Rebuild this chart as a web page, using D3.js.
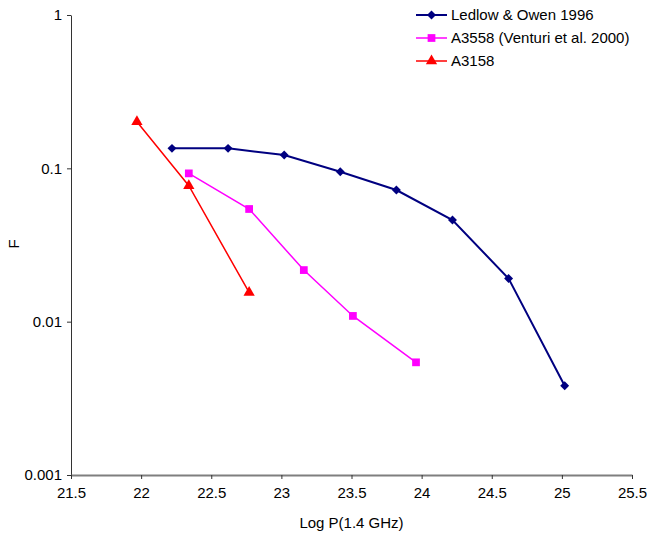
<!DOCTYPE html>
<html>
<head>
<meta charset="utf-8">
<script src="https://cdn.jsdelivr.net/npm/d3@7"></script>
<style>
  body { margin: 0; background: #fff; }
  text { font-family: "Liberation Sans", Arial, sans-serif; }
</style>
</head>
<body>
<div id="chart"></div>
<script>
// data
var ledlowX = [22.22, 22.62, 23.02, 23.42, 23.82, 24.22, 24.62, 25.02];
var ledlowF = [0.135, 0.135, 0.122, 0.095, 0.0722, 0.046, 0.0191, 0.00382];

var a3558X = [22.34, 22.77, 23.16, 23.51, 23.96];
var a3558F = [0.0927, 0.0543, 0.0217, 0.0109, 0.00543];

var a3158X = [21.97, 22.34, 22.77];
var a3158F = [0.201, 0.077, 0.0155];

var seriesNames = ["Ledlow & Owen 1996", "A3558 (Venturi et al. 2000)", "A3158"];
var xTicks = [21.5, 22, 22.5, 23, 23.5, 24, 24.5, 25, 25.5];
var yTicks = [0.001, 0.01, 0.1, 1];

var W = 647, H = 536;
var margin = { top: 15, right: 15, bottom: 61, left: 71 };
var width = W - margin.left - margin.right;
var height = H - margin.top - margin.bottom;

var x = d3.scaleLinear().domain([21.5, 25.5]).range([0, width]);
var y = d3.scaleLog().domain([0.001, 1]).range([height, 0]);

var svg = d3.select("#chart").append("svg")
    .attr("width", W)
    .attr("height", H);

var g = svg.append("g")
    .attr("transform", "translate(" + margin.left + "," + margin.top + ")");

// axes
var yAxis = g.append("g")
    .call(d3.axisLeft(y).tickValues(yTicks).tickSize(4).tickSizeOuter(0)
        .tickFormat(function (d) { return String(d); }));
yAxis.select(".domain").attr("stroke", "#333").attr("stroke-width", 1);
yAxis.selectAll("line").attr("stroke", "#333");
yAxis.selectAll("text").attr("font-size", 15).attr("fill", "#000").attr("x", -9);

var xAxis = g.append("g")
    .attr("transform", "translate(0," + height + ")")
    .call(d3.axisBottom(x).tickValues(xTicks).tickSize(4).tickSizeOuter(0)
        .tickFormat(function (d) { return String(d); }));
xAxis.select(".domain").attr("stroke", "#7f7f7f").attr("stroke-width", 2);
xAxis.selectAll("line").attr("stroke", "#333");
xAxis.selectAll("text").attr("font-size", 15).attr("fill", "#000").attr("y", 12);

// axis titles
svg.append("text")
    .attr("x", margin.left + width / 2)
    .attr("y", 528)
    .attr("text-anchor", "middle")
    .attr("font-size", 15)
    .text("Log P(1.4 GHz)");

svg.append("text")
    .attr("transform", "translate(19,244) rotate(-90)")
    .attr("text-anchor", "middle")
    .attr("font-size", 15)
    .text("F");

// square diamond (equal width and height)
var diamond = {
    draw: function (ctx, size) {
        var r = Math.sqrt(size / 2);
        ctx.moveTo(0, -r);
        ctx.lineTo(r, 0);
        ctx.lineTo(0, r);
        ctx.lineTo(-r, 0);
        ctx.closePath();
    }
};

var series = [
    { xs: ledlowX, ys: ledlowF, color: "#000080", lw: 2, symbol: diamond, size: 40 },
    { xs: a3558X, ys: a3558F, color: "#ff00ff", lw: 1.5, symbol: d3.symbolSquare, size: 60 },
    { xs: a3158X, ys: a3158F, color: "#ff0000", lw: 1.5, symbol: d3.symbolTriangle, size: 55 }
];

var line = d3.line()
    .x(function (d) { return x(d[0]); })
    .y(function (d) { return y(d[1]); });

series.forEach(function (s) {
    var pts = s.xs.map(function (v, i) { return [v, s.ys[i]]; });
    g.append("path")
        .datum(pts)
        .attr("fill", "none")
        .attr("stroke", s.color)
        .attr("stroke-width", s.lw)
        .attr("d", line);
    g.selectAll(null)
        .data(pts)
        .enter().append("path")
        .attr("d", d3.symbol().type(s.symbol).size(s.size))
        .attr("transform", function (d) {
            return "translate(" + x(d[0]) + "," + y(d[1]) + ")";
        })
        .attr("fill", s.color);
});

// legend
var legend = svg.append("g").attr("transform", "translate(416,15)");
seriesNames.forEach(function (name, i) {
    var s = series[i];
    var row = legend.append("g").attr("transform", "translate(0," + (i * 23) + ")");
    row.append("line")
        .attr("x1", 0).attr("x2", 31)
        .attr("stroke", s.color)
        .attr("stroke-width", s.lw);
    row.append("path")
        .attr("d", d3.symbol().type(s.symbol).size(s.size))
        .attr("transform", "translate(15.5,0)")
        .attr("fill", s.color);
    row.append("text")
        .attr("x", 35)
        .attr("y", 5)
        .attr("font-size", 15)
        .text(name);
});
</script>
</body>
</html>
